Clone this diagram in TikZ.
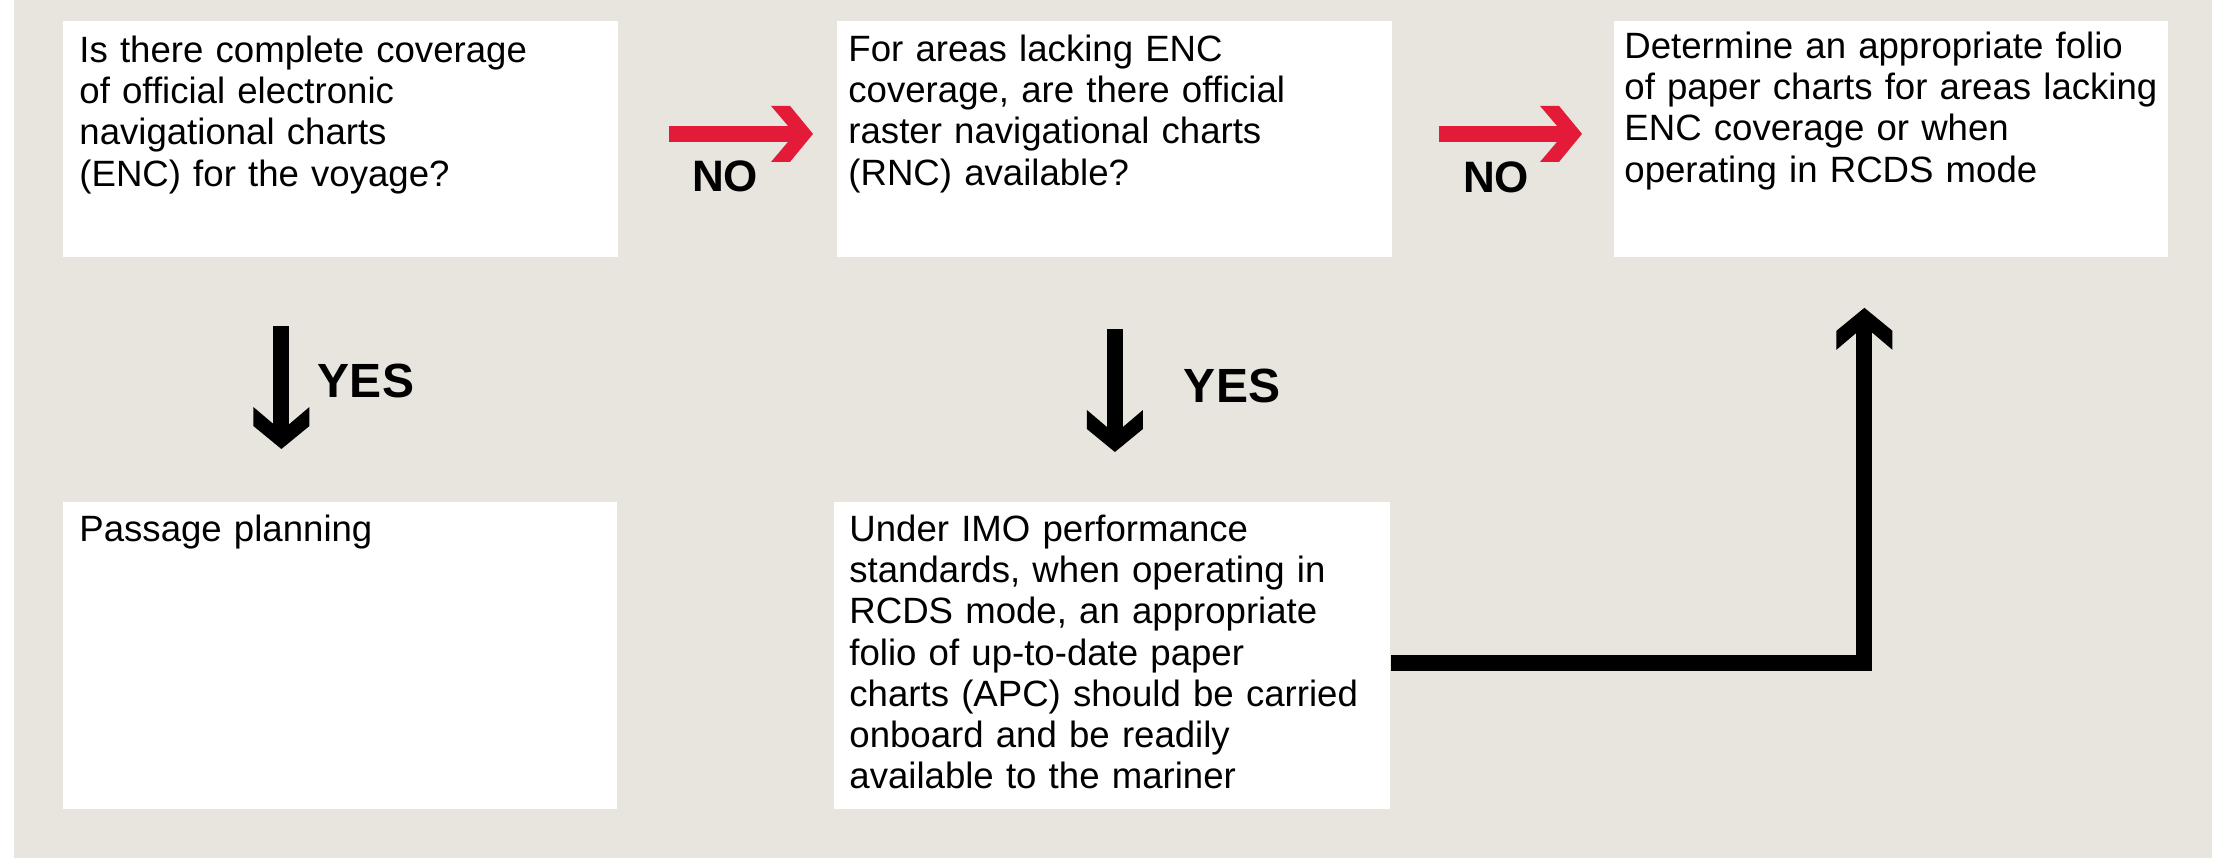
\documentclass[tikz,border=0pt]{standalone}
\usepackage{fontspec}
\setmainfont{Liberation Sans}
\definecolor{bgbeige}{RGB}{232,228,222}
\definecolor{nored}{RGB}{227,27,56}
\pgfdeclarearrow{
  name=Chev,
  setup code={
    \pgfarrowssettipend{0pt}
    \pgfarrowssetlineend{-11.5pt}
    \pgfarrowssetbackend{-21pt}
    \pgfarrowsupperhullpoint{0pt}{0pt}
    \pgfarrowsupperhullpoint{-11.5pt}{14pt}
    \pgfarrowsupperhullpoint{-21pt}{14pt}
  },
  drawing code={
    \pgfpathmoveto{\pgfqpoint{0pt}{0pt}}
    \pgfpathlineto{\pgfqpoint{-11.5pt}{14pt}}
    \pgfpathlineto{\pgfqpoint{-21pt}{14pt}}
    \pgfpathlineto{\pgfqpoint{-12.5pt}{4pt}}
    \pgfpathlineto{\pgfqpoint{-12.5pt}{-4pt}}
    \pgfpathlineto{\pgfqpoint{-21pt}{-14pt}}
    \pgfpathlineto{\pgfqpoint{-11.5pt}{-14pt}}
    \pgfpathclose
    \pgfusepathqfill
  }
}
\begin{document}
\begin{tikzpicture}[x=0.5pt,y=-0.5pt,
  box/.style={rectangle, fill=white, draw=none, inner sep=0pt, anchor=north west},
  txt/.style={anchor=north west, inner sep=0pt, align=left, text width=300pt,
    font=\fontsize{18.3pt}{20.6pt}\selectfont},
  lbl/.style={anchor=base, inner sep=0pt, font=\bfseries\fontsize{22pt}{24pt}\selectfont},
  lblyes/.style={lbl, font=\bfseries\fontsize{24pt}{26pt}\selectfont},
  redarrow/.style={draw=nored, line width=8pt, -Chev},
  blkarrow/.style={draw=black, line width=8pt, -Chev}
]
\useasboundingbox (0,0) rectangle (2215,858);
\fill[bgbeige] (14,0) rectangle (2212,858);

% boxes
\node[box, minimum width=277.5pt, minimum height=118pt] (b1) at (63,21) {};
\node[box, minimum width=277.5pt, minimum height=118pt] (b2) at (837,21) {};
\node[box, minimum width=277pt, minimum height=118pt] (b3) at (1614,21) {};
\node[box, minimum width=277pt, minimum height=153.5pt] (b4) at (63,502) {};
\node[box, minimum width=278pt, minimum height=153.5pt] (b5) at (834,502) {};

% texts
\node[txt] (t1) at ([shift={(16,11)}]b1.north west)
  {\rule{0pt}{15pt}Is there complete coverage\\of official electronic\\navigational charts\\(ENC) for the voyage?};
\node[txt] (t2) at ([shift={(11,10)}]b2.north west)
  {\rule{0pt}{15pt}For areas lacking ENC\\coverage, are there official\\raster navigational charts\\(RNC) available?};
\node[txt] (t3) at ([shift={(10,7)}]b3.north west)
  {\rule{0pt}{15pt}Determine an appropriate folio\\of paper charts for areas lacking\\ENC coverage or when\\operating in RCDS mode};
\node[txt] (t4) at ([shift={(16,9)}]b4.north west)
  {\rule{0pt}{15pt}Passage planning};
\node[txt] (t5) at ([shift={(15,9)}]b5.north west)
  {\rule{0pt}{15pt}Under IMO performance\\standards, when operating in\\RCDS mode, an appropriate\\folio of up-to-date paper\\charts (APC) should be carried\\onboard and be readily\\available to the mariner};

% connectors
\draw[redarrow, shorten <=25pt, shorten >=12pt] ([yshift=2.75pt]b1.east) -- ([yshift=2.75pt]b2.west);
\draw[redarrow, shorten <=23pt, shorten >=16pt] ([yshift=2.75pt]b2.east) -- ([yshift=2.75pt]b3.west);
\coordinate (d1) at ([xshift=-29.75pt]b1.south);
\draw[blkarrow, shorten <=34pt, shorten >=26.5pt] (d1) -- (d1 |- b4.north);
\draw[blkarrow, shorten <=35.5pt, shorten >=25pt] (b2.south) -- (b2.south |- b5.north);
\draw[blkarrow, shorten >=25pt] ([yshift=-3.75pt]b5.east) -| ([xshift=-13.5pt]b3.south);

% labels
\node[lbl] (no1) at (725,191) {NO};
\node[lbl] (no2) at (1496,192) {NO};
\node[lblyes] (yes1) at (366,397) {YES};
\node[lblyes] (yes2) at (1232,402) {YES};
\end{tikzpicture}
\end{document}
